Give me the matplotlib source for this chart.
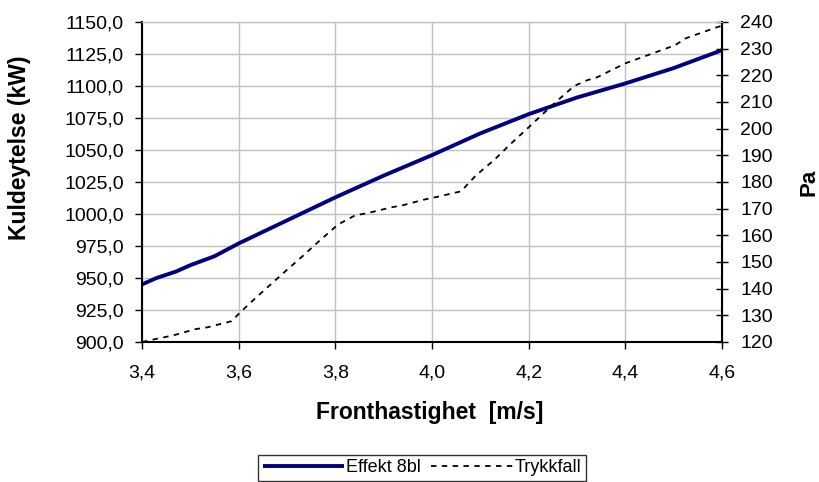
import matplotlib
matplotlib.use("Agg")
import matplotlib.pyplot as plt
from matplotlib.ticker import FuncFormatter, MultipleLocator

plt.rcParams['font.family'] = ['Liberation Sans', 'DejaVu Sans']

# Effekt 8bl (left axis, kW)
x_eff = [3.40, 3.43, 3.47, 3.50, 3.55, 3.60, 3.70, 3.80, 3.90, 4.00, 4.10, 4.20, 4.30, 4.40, 4.50, 4.60]
y_eff = [945, 950, 955, 960, 967, 977, 995, 1013, 1030, 1046, 1063, 1078, 1091, 1102, 1114, 1128]

# Trykkfall (right axis, Pa)
x_tr = [3.40, 3.42, 3.465, 3.51, 3.535, 3.585, 3.60, 3.62, 3.657, 3.694, 3.731, 3.768, 3.806, 3.841,
        3.866, 3.916, 3.94, 3.986, 4.01, 4.06, 4.09, 4.13, 4.164, 4.20, 4.237, 4.255, 4.294, 4.32,
        4.342, 4.40, 4.503, 4.525, 4.589, 4.60]
y_tr = [120.0, 120.8, 122.5, 124.8, 125.5, 127.8, 130.5, 134.0, 140.1, 146.1, 152.0, 158.1, 164.1, 167.5,
        168.3, 170.5, 171.3, 173.5, 174.4, 176.5, 182.3, 188.5, 194.5, 200.5, 206.8, 209.8, 216.0, 218.1,
        219.3, 224.5, 231.3, 233.9, 238.0, 238.6]

fig = plt.figure(figsize=(8.2, 4.82), dpi=100)
ax = fig.add_axes([142/820, 1-342/482, 580/820, 320/482])
ax2 = ax.twinx()

grid_c = '#c0c0c0'
ax.set_xlim(3.4, 4.6)
ax.set_ylim(900, 1150)
ax2.set_ylim(120, 240)
ax.xaxis.set_major_locator(MultipleLocator(0.2))
ax.yaxis.set_major_locator(MultipleLocator(25))
ax2.yaxis.set_major_locator(MultipleLocator(10))
ax.grid(True, color=grid_c, linewidth=1)
ax.set_axisbelow(True)

l1, = ax.plot(x_eff, y_eff, color='#000080', linewidth=2.8, solid_capstyle='butt')
l2, = ax2.plot(x_tr, y_tr, color='black', linewidth=1.3, linestyle=(0, (3, 3)))

ax.xaxis.set_major_formatter(FuncFormatter(lambda v, p: f"{v:.1f}".replace('.', ',')))
ax.yaxis.set_major_formatter(FuncFormatter(lambda v, p: f"{v:.1f}".replace('.', ',')))
ax2.yaxis.set_major_formatter(FuncFormatter(lambda v, p: f"{v:.0f}"))

for a in (ax, ax2):
    a.spines['top'].set_color(grid_c)
ax.spines['left'].set_linewidth(1.5)
ax.spines['bottom'].set_linewidth(1.5)
ax2.spines['right'].set_linewidth(1.5)
ax2.spines['left'].set_visible(False)
ax2.spines['bottom'].set_visible(False)

ax.tick_params(axis='y', direction='out', length=5, width=1, labelsize=14, pad=8)
ax.tick_params(axis='x', direction='out', length=5, width=1, labelsize=14, pad=11)
ax2.tick_params(axis='y', direction='inout', length=8, width=1, labelsize=14, pad=9)

fig.text(20/820, 1-148/482, 'Kuldeytelse (kW)', rotation=90, ha='center', va='center',
         fontsize=16.5, fontweight='bold')
fig.text(809/820, 1-182/482, 'Pa', rotation=90, ha='center', va='center',
         fontsize=16, fontweight='bold')
fig.text(430/820, 1-412/482, 'Fronthastighet  [m/s]', ha='center', va='center',
         fontsize=16.5, fontweight='bold')

leg = fig.legend([l1, l2], ['Effekt 8bl', 'Trykkfall'], loc='center',
                 bbox_to_anchor=(422/820, 1-468/482), ncol=2, frameon=True, fancybox=False,
                 edgecolor='black', fontsize=13, handlelength=4.5, handletextpad=0.1,
                 columnspacing=0.6, borderpad=0.25, borderaxespad=0)
leg.get_frame().set_linewidth(1)

fig.savefig('out.png', dpi=100)
